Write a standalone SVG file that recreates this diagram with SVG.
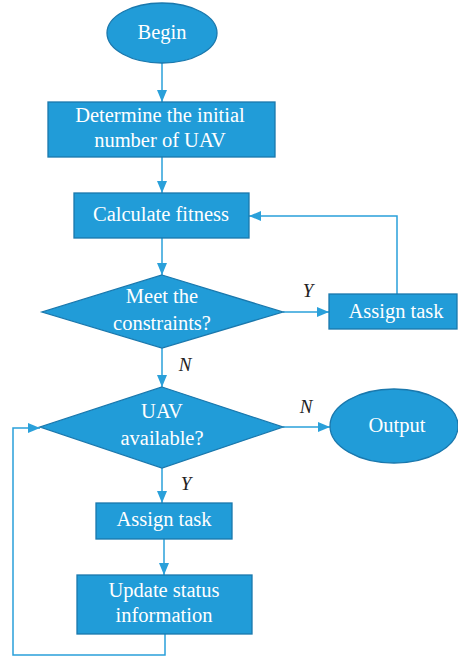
<svg xmlns="http://www.w3.org/2000/svg" width="458" height="659" viewBox="0 0 458 659">
<style>
.n{fill:#219cd8;stroke:#1a78ad;stroke-width:1.3}
.t{fill:#fff;font-family:"Liberation Serif",serif;font-size:20.5px;text-anchor:middle}
.l{fill:#222;font-family:"Liberation Serif",serif;font-size:19px;font-style:italic;text-anchor:middle}
.c{fill:none;stroke:#2aa0da;stroke-width:1.5}
</style>
<defs>
<marker id="a" markerWidth="12" markerHeight="10" refX="12" refY="5" orient="auto" markerUnits="userSpaceOnUse">
<path d="M0,0 L12,5 L0,10 Z" fill="#2aa0da"/>
</marker>
</defs>
<rect width="458" height="659" fill="#fff"/>
<g id="connectors">
<line class="c" x1="162" y1="63" x2="162" y2="102" marker-end="url(#a)"/>
<line class="c" x1="162" y1="157" x2="162" y2="193" marker-end="url(#a)"/>
<line class="c" x1="162" y1="238" x2="162" y2="275" marker-end="url(#a)"/>
<line class="c" x1="283" y1="312" x2="329" y2="312" marker-end="url(#a)"/>
<polyline class="c" points="397,294 397,216 249,216" marker-end="url(#a)"/>
<line class="c" x1="162" y1="348" x2="162" y2="387" marker-end="url(#a)"/>
<line class="c" x1="283" y1="427" x2="330" y2="427" marker-end="url(#a)"/>
<line class="c" x1="162" y1="468" x2="162" y2="503" marker-end="url(#a)"/>
<line class="c" x1="164" y1="539" x2="164" y2="575" marker-end="url(#a)"/>
<polyline class="c" points="165,634 165,655 13,655 13,428 40,428" marker-end="url(#a)"/>
<text class="l" x="308" y="297">Y</text>
<text class="l" x="185" y="371">N</text>
<text class="l" x="306" y="413">N</text>
<text class="l" x="186" y="490">Y</text>
</g>
<g id="begin">
<ellipse class="n" cx="162" cy="33" rx="55" ry="30"/>
<text class="t" x="162" y="39">Begin</text>
</g>
<g id="determine">
<rect class="n" x="48" y="102" width="227" height="55"/>
<text class="t" x="160" y="122">Determine the initial</text>
<text class="t" x="160" y="147">number of UAV</text>
</g>
<g id="fitness">
<rect class="n" x="74" y="193" width="175" height="45"/>
<text class="t" x="161" y="221">Calculate fitness</text>
</g>
<g id="meet">
<polygon class="n" points="162,275 283,312 162,348 42,312"/>
<text class="t" x="162" y="303">Meet the</text>
<text class="t" x="162" y="330">constraints?</text>
</g>
<g id="assign1">
<rect class="n" x="329" y="294" width="128" height="35"/>
<text class="t" x="396" y="318">Assign task</text>
</g>
<g id="available">
<polygon class="n" points="162,387 283,427 162,468 40,427"/>
<text class="t" x="162" y="418">UAV</text>
<text class="t" x="162" y="445">available?</text>
</g>
<g id="output">
<ellipse class="n" cx="394" cy="426" rx="64" ry="37"/>
<text class="t" x="397" y="432">Output</text>
</g>
<g id="assign2">
<rect class="n" x="96" y="503" width="136" height="36"/>
<text class="t" x="164" y="526">Assign task</text>
</g>
<g id="update">
<rect class="n" x="77" y="575" width="175" height="59"/>
<text class="t" x="164" y="597">Update status</text>
<text class="t" x="164" y="622">information</text>
</g>
</svg>
